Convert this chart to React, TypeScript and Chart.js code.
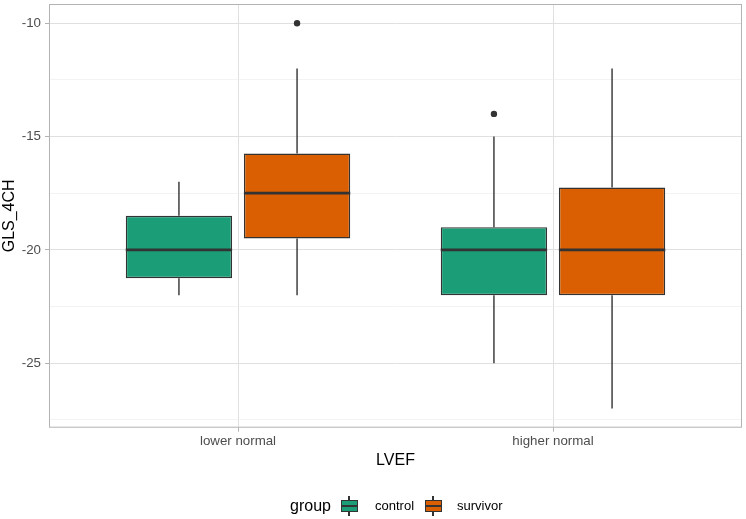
import React, { useEffect, useRef } from "react";
import { Chart, registerables } from "chart.js";

Chart.register(...registerables);

// ---- data ----
const categories = ["lower normal", "higher normal"];
const groupNames = ["control", "survivor"];
const groupColors = ["#1B9E77", "#D95F02"];

const controlMin = [-22, -25];
const controlQ1 = [-21.25, -22];
const controlMedian = [-20, -20];
const controlQ3 = [-18.5, -19];
const controlMax = [-17, -15];
const controlOutliers = [[], [-14]];

const survivorMin = [-22, -27];
const survivorQ1 = [-19.5, -22];
const survivorMedian = [-17.5, -20];
const survivorQ3 = [-15.75, -17.25];
const survivorMax = [-12, -12];
const survivorOutliers = [[-10], []];

const yMajorTicks = [-25, -20, -15, -10];
const yMinorTicks = [-27.5, -22.5, -17.5, -12.5];

const xTitle = "LVEF";
const yTitle = "GLS_4CH";
const legendTitle = "group";

// ---- build ----
const series = [
  { name: groupNames[0], color: groupColors[0], min: controlMin, q1: controlQ1, median: controlMedian, q3: controlQ3, max: controlMax, outliers: controlOutliers },
  { name: groupNames[1], color: groupColors[1], min: survivorMin, q1: survivorQ1, median: survivorMedian, q3: survivorQ3, max: survivorMax, outliers: survivorOutliers },
];

const DODGE = 0.75;
const offsetFor = (g: number) => (g - (series.length - 1) / 2) * (DODGE / series.length);

const FONT = "'Liberation Sans', Arial, Helvetica, sans-serif";
const INK = "#333333";

const boxPlugin = {
  id: "boxplotParts",
  beforeDatasetsDraw(chart: any) {
    const ctx = chart.ctx;
    const yScale = chart.scales.y;
    ctx.save();
    ctx.strokeStyle = INK;
    ctx.lineWidth = 1.4;
    series.forEach((s, g) => {
      const meta = chart.getDatasetMeta(g);
      meta.data.forEach((el: any, i: number) => {
        const x = el.x;
        ctx.beginPath();
        ctx.moveTo(x, yScale.getPixelForValue(s.q3[i]));
        ctx.lineTo(x, yScale.getPixelForValue(s.max[i]));
        ctx.moveTo(x, yScale.getPixelForValue(s.q1[i]));
        ctx.lineTo(x, yScale.getPixelForValue(s.min[i]));
        ctx.stroke();
      });
    });
    ctx.restore();
  },
  afterDatasetsDraw(chart: any) {
    const ctx = chart.ctx;
    const yScale = chart.scales.y;
    ctx.save();
    ctx.strokeStyle = INK;
    ctx.lineWidth = 2.8;
    series.forEach((s, g) => {
      const meta = chart.getDatasetMeta(g);
      meta.data.forEach((el: any, i: number) => {
        const y = yScale.getPixelForValue(s.median[i]);
        ctx.beginPath();
        ctx.moveTo(el.x - el.width / 2, y);
        ctx.lineTo(el.x + el.width / 2, y);
        ctx.stroke();
      });
    });
    const a = chart.chartArea;
    ctx.strokeStyle = "#B3B3B3";
    ctx.lineWidth = 1;
    ctx.strokeRect(a.left + 0.5, a.top + 0.5, a.right - a.left - 1, a.bottom - a.top - 1);
    ctx.restore();
  },
};

function LegendGlyph({ left, color }: { left: number; color: string }) {
  return (
    <div style={{ position: "absolute", left, top: 496, width: 17, height: 20 }}>
      <div style={{ position: "absolute", left: 7.9, top: 0, width: 1.3, height: 20, background: INK }} />
      <div
        style={{
          position: "absolute",
          left: 0,
          top: 4,
          width: 17,
          height: 11.5,
          boxSizing: "border-box",
          border: `1.2px solid ${INK}`,
          background: color,
        }}
      />
      <div style={{ position: "absolute", left: 0, top: 8.8, width: 17, height: 2, background: INK }} />
    </div>
  );
}

export default function App() {
  const canvasRef = useRef<HTMLCanvasElement | null>(null);

  useEffect(() => {
    document.body.style.margin = "0";
    const canvas = canvasRef.current;
    if (!canvas) return;

    const datasets: any[] = series.map((s, g) => ({
      type: "bar",
      label: s.name,
      data: categories.map((_, i) => ({ x: i + 1 + offsetFor(g), y: [s.q1[i], s.q3[i]] })),
      backgroundColor: s.color,
      borderColor: INK,
      borderWidth: 1.4,
      borderSkipped: false,
      grouped: false,
      barPercentage: 0.9,
      categoryPercentage: 1,
      order: 2,
    }));

    const outlierPoints: { x: number; y: number }[] = [];
    series.forEach((s, g) => {
      s.outliers.forEach((vals, i) => {
        vals.forEach((v) => outlierPoints.push({ x: i + 1 + offsetFor(g), y: v }));
      });
    });
    datasets.push({
      type: "scatter",
      label: "outliers",
      data: outlierPoints,
      pointRadius: 3.2,
      pointBackgroundColor: INK,
      pointBorderWidth: 0,
      showLine: false,
      order: 1,
    });

    const isMajor = (v: number) => yMajorTicks.some((t) => Math.abs(t - v) < 1e-6);

    const chart = new Chart(canvas, {
      type: "bar",
      data: { datasets },
      plugins: [boxPlugin],
      options: {
        animation: false,
        responsive: true,
        maintainAspectRatio: false,
        layout: { padding: { left: 0, right: 2, top: 1.5, bottom: 49 } },
        plugins: { legend: { display: false }, tooltip: { enabled: false } },
        events: [],
        scales: {
          x: {
            type: "linear",
            min: 0.4,
            max: 2.6,
            offset: false,
            afterBuildTicks: (scale: any) => {
              scale.ticks = categories.map((_, i) => ({ value: i + 1 }));
            },
            afterFit: (scale: any) => {
              scale.height = 42.3;
              scale.paddingLeft = 0;
              scale.paddingRight = 0;
              scale.paddingTop = 0;
              scale.paddingBottom = 0;
            },
            ticks: {
              autoSkip: false,
              maxRotation: 0,
              color: "#4D4D4D",
              font: { family: FONT, size: 13.3, lineHeight: 1.2 },
              padding: 1.5,
              callback: (v: any) => categories[Math.round(Number(v)) - 1] ?? "",
            },
            grid: {
              offset: false,
              color: "#E0E0E0",
              lineWidth: 1,
              tickLength: 4,
              tickColor: "#B3B3B3",
              tickWidth: 1,
            },
            border: { display: false },
            title: {
              display: true,
              text: xTitle,
              color: "#000000",
              font: { family: FONT, size: 16, lineHeight: 1.2 },
              padding: { top: 0, bottom: 0 },
            },
          },
          y: {
            type: "linear",
            min: -27.85,
            max: -9.15,
            beginAtZero: false,
            afterBuildTicks: (scale: any) => {
              scale.ticks = [...yMinorTicks, ...yMajorTicks]
                .sort((a, b) => a - b)
                .map((v) => ({ value: v }));
            },
            afterFit: (scale: any) => {
              scale.width = 49;
              scale.paddingLeft = 0;
              scale.paddingRight = 0;
              scale.paddingTop = 0;
              scale.paddingBottom = 0;
            },
            ticks: {
              color: "#4D4D4D",
              font: { family: FONT, size: 13.3, lineHeight: 1.2 },
              padding: 4,
              callback: (v: any) => (isMajor(Number(v)) ? String(v) : ""),
            },
            grid: {
              color: (c: any) => (c.tick && isMajor(c.tick.value) ? "#E0E0E0" : "#EEEEEE"),
              lineWidth: (c: any) => (c.tick && isMajor(c.tick.value) ? 1 : 0.7),
              tickLength: 4,
              tickColor: (c: any) => (c.tick && isMajor(c.tick.value) ? "#B3B3B3" : "rgba(0,0,0,0)"),
              tickWidth: 1,
            },
            border: { display: false },
            title: {
              display: true,
              text: yTitle,
              color: "#000000",
              font: { family: FONT, size: 16, lineHeight: 1.2 },
              padding: { top: 0, bottom: 0 },
            },
          },
        },
      } as any,
    });

    return () => chart.destroy();
  }, []);

  const textStyle = (left: number, size: number): React.CSSProperties => ({
    position: "absolute",
    left,
    top: 496,
    height: 20,
    lineHeight: "20px",
    fontFamily: FONT,
    fontSize: size,
    color: "#000000",
    whiteSpace: "nowrap",
  });

  return (
    <div style={{ position: "fixed", left: 0, top: 0, width: 746, height: 519, background: "#FFFFFF" }}>
      <canvas ref={canvasRef} />
      <div style={textStyle(290, 16)}>{legendTitle}</div>
      <LegendGlyph left={340.5} color={groupColors[0]} />
      <div style={textStyle(375, 13)}>{groupNames[0]}</div>
      <LegendGlyph left={424.5} color={groupColors[1]} />
      <div style={textStyle(457, 13)}>{groupNames[1]}</div>
    </div>
  );
}
